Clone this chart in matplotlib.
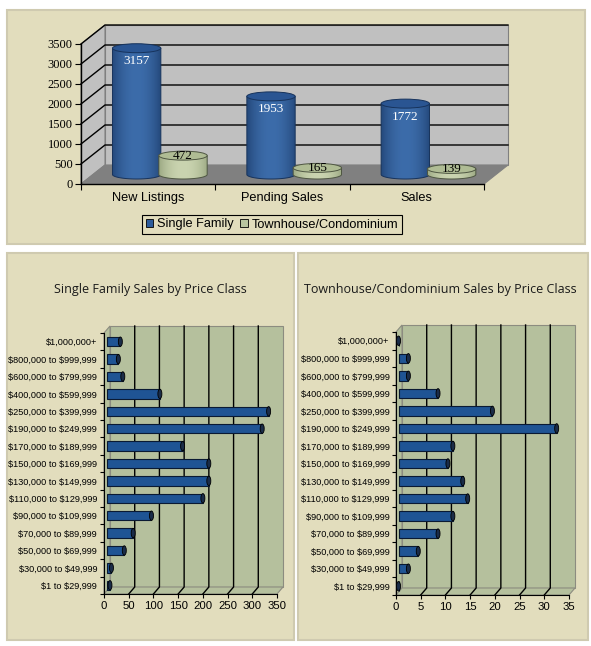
import matplotlib
matplotlib.use("Agg")
import matplotlib.pyplot as plt
import numpy as np
from matplotlib.patches import Rectangle, Polygon, Ellipse, Patch
from matplotlib.transforms import IdentityTransform, Affine2D
from matplotlib.colors import to_rgb

plt.rcParams["text.parse_math"] = False

# --- data ---
groups = ["New Listings", "Pending Sales", "Sales"]
single_family = [3157, 1953, 1772]
townhouse = [472, 165, 139]

# price classes, bottom to top
price_classes = [
    "$1 to $29,999", "$30,000 to $49,999", "$50,000 to $69,999",
    "$70,000 to $89,999", "$90,000 to $109,999", "$110,000 to $129,999",
    "$130,000 to $149,999", "$150,000 to $169,999", "$170,000 to $189,999",
    "$190,000 to $249,999", "$250,000 to $399,999", "$400,000 to $599,999",
    "$600,000 to $799,999", "$800,000 to $999,999", "$1,000,000+",
]
sf_sales = [7, 10, 36, 54, 91, 195, 207, 207, 154, 315, 328, 108, 33, 24, 28]
th_sales = [0, 2, 4, 8, 11, 14, 13, 10, 11, 32, 19, 8, 2, 2, 0]

BEIGE = "#E2DDBD"
SAGE = "#B5C09D"
BLUE = "#2D5C9C"
GREEN = "#B9C6A0"

W, H = 591, 646
fig = plt.figure(figsize=(W / 100, H / 100), dpi=100)
fig.patch.set_facecolor("white")
ident = IdentityTransform()


def box(x0, y0, x1, y1):
    # pixel box (top-left origin) -> figure fraction rect
    return [x0 / W, 1 - y1 / H, (x1 - x0) / W, (y1 - y0) / H]


# panels
for x0, y0, x1, y1 in [(7, 10, 585, 244), (7, 253, 294, 640), (298, 253, 588, 640)]:
    fig.add_artist(Rectangle((x0 / W, 1 - y1 / H), (x1 - x0) / W, (y1 - y0) / H,
                             transform=fig.transFigure, facecolor=BEIGE,
                             edgecolor="#CFCAB0", lw=1.5, zorder=-1))

# ---------------- top chart (3D cylinders) ----------------
ax = fig.add_axes(box(81, 44, 484, 184))
ax.set_xlim(0, 3)
ax.set_ylim(0, 3500)
ax.patch.set_visible(False)
DX, DY = 24, 19


def P(x, y, z=0.0):
    px, py = ax.transData.transform((x, y))
    return (px + z * DX, py + z * DY)


def poly(pts, **kw):
    ax.add_patch(Polygon(pts, closed=True, transform=ident, clip_on=False, **kw))


poly([P(0, 0, 1), P(3, 0, 1), P(3, 3500, 1), P(0, 3500, 1)], fc="#C0C0C0", ec="#808080", lw=0.8, zorder=0.5)
poly([P(0, 0, 0), P(0, 0, 1), P(0, 3500, 1), P(0, 3500, 0)], fc="#C0C0C0", ec="#808080", lw=0.8, zorder=0.5)
poly([P(0, 0, 0), P(3, 0, 0), P(3, 0, 1), P(0, 0, 1)], fc="#808080", ec="#808080", lw=0.8, zorder=0.6)
for v in range(500, 3501, 500):
    a, b, c = P(0, v, 0), P(0, v, 1), P(3, v, 1)
    ax.plot([a[0], b[0], c[0]], [a[1], b[1], c[1]], color="black", lw=1,
            transform=ident, clip_on=False, zorder=0.7)

ax.spines[["top", "right"]].set_visible(False)
ax.spines[["left", "bottom"]].set_linewidth(1)
ax.set_yticks(range(0, 3501, 500))
ax.set_yticklabels([str(v) for v in range(0, 3501, 500)], family="Liberation Serif", fontsize=9)
ax.set_xticks([0, 1, 2, 3])
ax.set_xticklabels([])
ax.set_xticks([0.5, 1.5, 2.5], minor=True)
ax.set_xticklabels(groups, minor=True, family="Liberation Sans", fontsize=9.2)
ax.tick_params(axis="y", length=4, pad=2)
ax.tick_params(axis="x", which="major", length=4)
ax.tick_params(axis="x", which="minor", length=0, pad=6)


def cylinder(xc, hw, v, dark, light, top, edge, z):
    x0, yb = P(xc - hw, 0, 0.5)
    x1, yt = P(xc + hw, v, 0.5)
    cx = (x0 + x1) / 2
    w = x1 - x0
    eh = 9
    ang = np.linspace(np.pi, 2 * np.pi, 40)
    verts = [(x0, yt)] + [(cx + w / 2 * np.cos(a), yb + eh / 2 * np.sin(a)) for a in ang] + [(x1, yt)]
    body = Polygon(verts, closed=True, transform=ident, fc="none", ec=edge, lw=0.7,
                   clip_on=False, zorder=z + 0.1)
    ax.add_patch(body)
    t = np.linspace(0, 1, 64)
    f = np.clip(np.sin(np.pi * (t * 0.9 + 0.05)) ** 0.7, 0, 1)
    d, l = np.array(to_rgb(dark)), np.array(to_rgb(light))
    grad = d[None, :] + (l - d)[None, :] * f[:, None]
    im = ax.imshow(grad[None, :, :], extent=(x0, x1, yb - eh / 2, yt), transform=ident,
                   aspect="auto", interpolation="bilinear", zorder=z)
    im.set_clip_path(body)
    ax.add_patch(Ellipse((cx, yt), w, eh, transform=ident, fc=top, ec=edge, lw=0.7,
                         clip_on=False, zorder=z + 0.2))
    return cx, yt


hw = 0.18
for i in range(3):
    cx, yt = cylinder(i + 0.5 - 0.175, hw, single_family[i], "#1B3B69", "#3C6CAA", "#2A5592", "#17335C", 3)
    ax.text(cx, yt - 13, str(single_family[i]), transform=ident, ha="center", va="center",
            color="white", family="Liberation Serif", fontsize=9.5, zorder=5)
    cx, yt = cylinder(i + 0.5 + 0.17, hw, townhouse[i], "#8C9A74", "#CAD4B0", "#AFBC94", "#4E5642", 4)
    ax.text(cx, yt, str(townhouse[i]), transform=ident, ha="center", va="center",
            color="black", family="Liberation Serif", fontsize=9.5, zorder=6)

leg = fig.legend(handles=[Patch(fc=BLUE, ec="black", lw=0.6), Patch(fc=GREEN, ec="black", lw=0.6)],
                 labels=["Single Family", "Townhouse/Condominium"], loc="center",
                 bbox_to_anchor=(272 / W, 1 - 224.5 / H), ncol=2, frameon=True, fancybox=False,
                 edgecolor="black", facecolor=BEIGE, framealpha=1, handlelength=0.6,
                 handleheight=0.6, handletextpad=0.3, columnspacing=0.5, borderpad=0.3,
                 prop={"family": "Liberation Sans", "size": 9.2})
leg.get_frame().set_linewidth(0.8)


# ---------------- bottom charts (horizontal bars) ----------------
def price_chart(rect, values, xmax, step, title, title_x, label_pad):
    bx = fig.add_axes(box(*rect))
    bx.set_xlim(0, xmax)
    bx.set_ylim(-0.5, 14.5)
    bx.patch.set_visible(False)
    ddx, ddy = 6, 7

    def Q(x, y, z=0.0):
        px, py = bx.transData.transform((x, y))
        return (px + z * ddx, py + z * ddy)

    def bpoly(pts, **kw):
        bx.add_patch(Polygon(pts, closed=True, transform=ident, clip_on=False, **kw))

    lo, hi = -0.5, 14.5
    bpoly([Q(0, lo, 1), Q(xmax, lo, 1), Q(xmax, hi, 1), Q(0, hi, 1)], fc=SAGE, ec="#8C8C80", lw=0.8, zorder=0.5)
    bpoly([Q(0, lo, 0), Q(0, lo, 1), Q(0, hi, 1), Q(0, hi, 0)], fc=SAGE, ec="#8C8C80", lw=0.8, zorder=0.5)
    bpoly([Q(0, lo, 0), Q(xmax, lo, 0), Q(xmax, lo, 1), Q(0, lo, 1)], fc=SAGE, ec="#8C8C80", lw=0.8, zorder=0.5)
    for t in np.arange(step, xmax, step):
        a, b, c = Q(t, lo, 0), Q(t, lo, 1), Q(t, hi, 1)
        bx.plot([a[0], b[0], c[0]], [a[1], b[1], c[1]], color="black", lw=1,
                transform=ident, clip_on=False, zorder=0.7)

    shift = bx.transData + Affine2D().translate(2.5, 0)
    y = np.arange(len(values))
    bx.barh(y, values, height=0.54, color="#1F5494", edgecolor="#0A1A33", lw=0.8,
            transform=shift, zorder=3)
    pxu = bx.transData.transform((1, 0))[0] - bx.transData.transform((0, 0))[0]
    for yi, v in zip(y, values):
        bx.add_patch(Ellipse((v, yi), 4 / pxu, 0.54, transform=shift, fc="#1A2C48",
                             ec="black", lw=0.6, zorder=4, clip_on=False))

    bx.spines[["top", "right"]].set_visible(False)
    bx.set_yticks(np.arange(-0.5, 15, 1))
    bx.set_yticklabels([])
    bx.set_yticks(y, minor=True)
    bx.set_yticklabels(price_classes, minor=True, family="Liberation Sans", fontsize=6.6)
    bx.tick_params(axis="y", which="major", length=3)
    bx.tick_params(axis="y", which="minor", length=0, pad=label_pad)
    ticks = np.arange(0, xmax + 0.1, step)
    bx.set_xticks(ticks)
    bx.set_xticklabels([f"{t:g}" for t in ticks], family="Liberation Sans", fontsize=8.2)
    bx.tick_params(axis="x", length=3, pad=2)
    fig.text(title_x / W, 1 - 289 / H, title, ha="center", va="center",
             family="Open Sans", fontsize=9, color="#1A1A1A")


price_chart((104, 333, 277, 594), sf_sales, 350, 50, "Single Family Sales by Price Class", 150, 5)
price_chart((396, 332, 569, 595), th_sales, 35, 5, "Townhouse/Condominium Sales by Price Class", 440, 4.5)

fig.savefig("out.png", dpi=100)
